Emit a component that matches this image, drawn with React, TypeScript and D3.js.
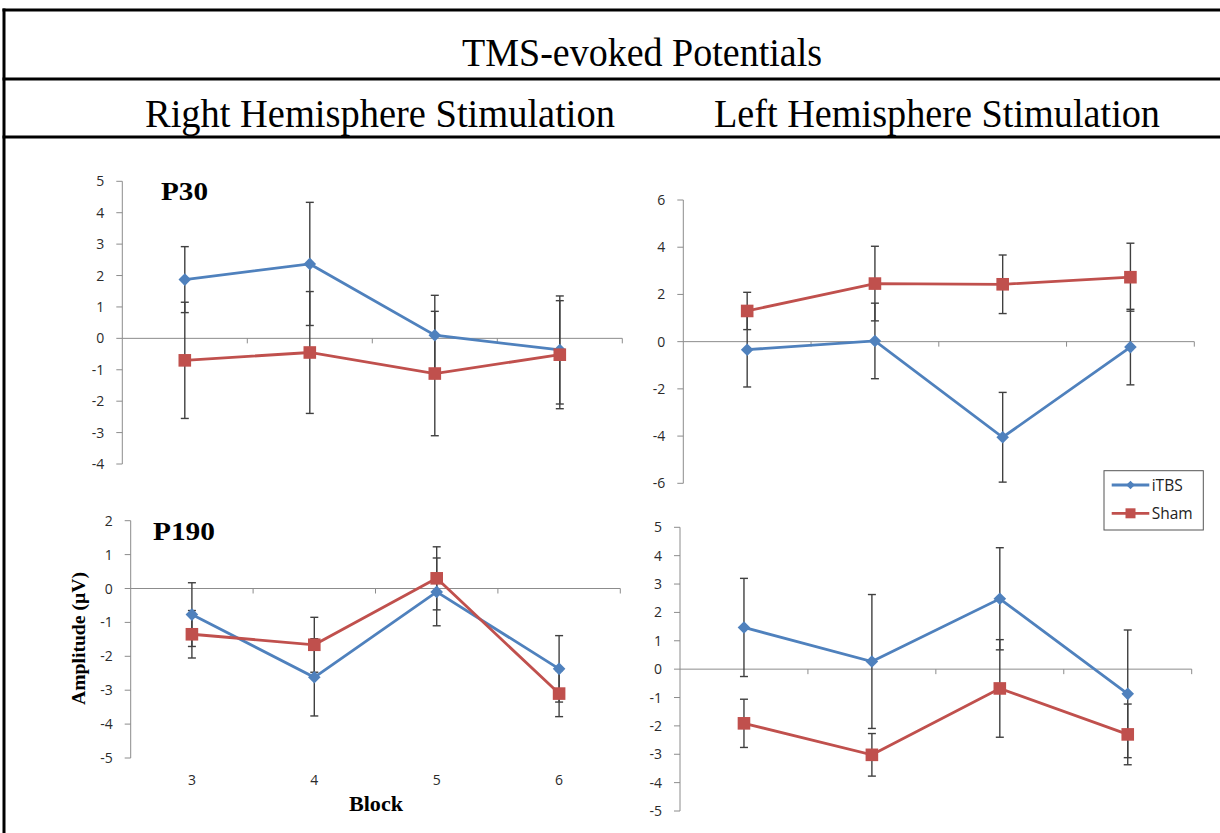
import React from "react";
import * as d3 from "d3";

// ---------- data ----------
const blocks = ["3", "4", "5", "6"];
const seriesNames = ["iTBS", "Sham"];

// P30, Right Hemisphere Stimulation
const rightP30iTBS = [1.87, 2.37, 0.1, -0.37];
const rightP30iTBSErr = [1.05, 1.96, 1.27, 1.72];
const rightP30Sham = [-0.7, -0.45, -1.12, -0.52];
const rightP30ShamErr = [1.85, 1.94, 1.98, 1.72];

// P30, Left Hemisphere Stimulation
const leftP30iTBS = [-0.34, 0.03, -4.05, -0.23];
const leftP30iTBSErr = [1.58, 1.6, 1.9, 1.6];
const leftP30Sham = [1.3, 2.46, 2.43, 2.73];
const leftP30ShamErr = [0.79, 1.58, 1.24, 1.44];

// P190, Right Hemisphere Stimulation
const rightP190iTBS = [-0.77, -2.62, -0.1, -2.37];
const rightP190iTBSErr = [0.94, 1.14, 1.0, 0.98];
const rightP190Sham = [-1.35, -1.66, 0.3, -3.1];
const rightP190ShamErr = [0.7, 0.81, 0.93, 0.68];

// P190, Left Hemisphere Stimulation
const leftP190iTBS = [1.47, 0.27, 2.48, -0.87];
const leftP190iTBSErr = [1.73, 2.36, 1.8, 2.25];
const leftP190Sham = [-1.91, -3.02, -0.68, -2.3];
const leftP190ShamErr = [0.85, 0.75, 1.72, 1.07];

// ---------- layout ----------
const BLUE = "#4F81BD";
const RED = "#C0504D";
const AXIS = "#8c8c8c";
const ERR = "#404040";
const SERIF = "'Liberation Serif', 'Times New Roman', serif";
const SANS = "'Open Sans', 'Liberation Sans', sans-serif";

type Panel = {
  x0: number; x1: number; yTop: number; yBot: number;
  domain: [number, number]; step: number;
  itbs: number[]; itbsErr: number[]; sham: number[]; shamErr: number[];
  showCats: boolean;
};

const panels: Panel[] = [
  { x0: 122.3, x1: 622.3, yTop: 181.3, yBot: 464, domain: [-4, 5], step: 1,
    itbs: rightP30iTBS, itbsErr: rightP30iTBSErr, sham: rightP30Sham, shamErr: rightP30ShamErr, showCats: false },
  { x0: 683.3, x1: 1194.3, yTop: 200, yBot: 483.3, domain: [-6, 6], step: 2,
    itbs: leftP30iTBS, itbsErr: leftP30iTBSErr, sham: leftP30Sham, shamErr: leftP30ShamErr, showCats: false },
  { x0: 130.7, x1: 620.3, yTop: 520.7, yBot: 758, domain: [-5, 2], step: 1,
    itbs: rightP190iTBS, itbsErr: rightP190iTBSErr, sham: rightP190Sham, shamErr: rightP190ShamErr, showCats: true },
  { x0: 680, x1: 1191.7, yTop: 527.3, yBot: 811, domain: [-5, 5], step: 1,
    itbs: leftP190iTBS, itbsErr: leftP190iTBSErr, sham: leftP190Sham, shamErr: leftP190ShamErr, showCats: false },
];

const diamond = (x: number, y: number, r: number) =>
  `M${x},${y - r}L${x + r},${y}L${x},${y + r}L${x - r},${y}Z`;

function ChartPanel({ p }: { p: Panel }) {
  const x = d3.scaleBand<string>().domain(blocks).range([p.x0, p.x1]);
  const y = d3.scaleLinear().domain(p.domain).range([p.yBot, p.yTop]);
  const cx = (b: string) => (x(b) as number) + x.bandwidth() / 2;
  const ticks = d3.range(p.domain[0], p.domain[1] + p.step / 2, p.step);
  const line = d3.line<number>().x((_, i) => cx(blocks[i])).y((v) => y(v));
  const series = [
    { vals: p.itbs, err: p.itbsErr, color: BLUE, shape: "diamond" },
    { vals: p.sham, err: p.shamErr, color: RED, shape: "square" },
  ];
  const boundaries = blocks.map((b) => (x(b) as number) + x.bandwidth());
  return (
    <g>
      <line x1={p.x0} x2={p.x0} y1={y(p.domain[0])} y2={y(p.domain[1])} stroke={AXIS} strokeWidth={1} />
      {ticks.map((t) => (
        <g key={t}>
          <line x1={p.x0 - 6} x2={p.x0} y1={y(t)} y2={y(t)} stroke={AXIS} strokeWidth={1} />
          <text x={p.x0 - 18} y={y(t)} dy="0.36em" textAnchor="end" fontFamily={SANS} fontSize={14} fill="#2b2b2b">
            {String(t)}
          </text>
        </g>
      ))}
      <line x1={p.x0} x2={p.x1} y1={y(0)} y2={y(0)} stroke={AXIS} strokeWidth={1} />
      {boundaries.map((bx, i) => (
        <line key={i} x1={bx} x2={bx} y1={y(0)} y2={y(0) + 5} stroke={AXIS} strokeWidth={1} />
      ))}
      {p.showCats &&
        blocks.map((b) => (
          <text key={b} x={cx(b)} y={785} textAnchor="middle" fontFamily={SANS} fontSize={14} fill="#2b2b2b">
            {b}
          </text>
        ))}
      {series.map((s, si) => (
        <path key={si} d={line(s.vals) as string} fill="none" stroke={s.color} strokeWidth={2.8} />
      ))}
      {series.map((s, si) =>
        s.vals.map((v, i) => {
          const px = cx(blocks[i]);
          const yt = y(v + s.err[i]);
          const yb = y(v - s.err[i]);
          return (
            <g key={`${si}-${i}`} stroke={ERR} strokeWidth={1.4}>
              <line x1={px} x2={px} y1={yt} y2={yb} />
              <line x1={px - 4} x2={px + 4} y1={yt} y2={yt} />
              <line x1={px - 4} x2={px + 4} y1={yb} y2={yb} />
            </g>
          );
        })
      )}
      {series.map((s, si) =>
        s.vals.map((v, i) => {
          const px = cx(blocks[i]);
          const py = y(v);
          return s.shape === "diamond" ? (
            <path key={`${si}-${i}`} d={diamond(px, py, 6.3)} fill={s.color} />
          ) : (
            <rect key={`${si}-${i}`} x={px - 6.3} y={py - 6.3} width={12.6} height={12.6} fill={s.color} />
          );
        })
      )}
    </g>
  );
}

export default function App() {
  return (
    <svg
      width={1220}
      height={833}
      style={{ position: "absolute", left: 0, top: 0, background: "#fff" }}
      xmlns="http://www.w3.org/2000/svg"
    >
      <rect x={0} y={0} width={1220} height={833} fill="#fff" />
      <line x1={2.5} x2={1220} y1={10} y2={10} stroke="#000" strokeWidth={3} />
      <line x1={2.5} x2={1220} y1={79} y2={79} stroke="#000" strokeWidth={3} />
      <line x1={2.5} x2={1220} y1={137} y2={137} stroke="#000" strokeWidth={3} />
      <line x1={4} x2={4} y1={8.5} y2={833} stroke="#000" strokeWidth={3} />

      <text x={642} y={66} textAnchor="middle" fontFamily={SERIF} fontSize={39} textLength={360} lengthAdjust="spacingAndGlyphs">
        TMS-evoked Potentials
      </text>
      <text x={380} y={127} textAnchor="middle" fontFamily={SERIF} fontSize={39} textLength={470} lengthAdjust="spacingAndGlyphs">
        Right Hemisphere Stimulation
      </text>
      <text x={937} y={127} textAnchor="middle" fontFamily={SERIF} fontSize={39} textLength={446} lengthAdjust="spacingAndGlyphs">
        Left Hemisphere Stimulation
      </text>

      {panels.map((p, i) => (
        <ChartPanel key={i} p={p} />
      ))}

      <text x={161} y={200} fontFamily={SERIF} fontWeight="bold" fontSize={26} textLength={47} lengthAdjust="spacingAndGlyphs">
        P30
      </text>
      <text x={153} y={540} fontFamily={SERIF} fontWeight="bold" fontSize={26} textLength={62} lengthAdjust="spacingAndGlyphs">
        P190
      </text>
      <text
        transform="translate(84.5,638.5) rotate(-90)"
        textAnchor="middle"
        fontFamily={SERIF}
        fontWeight="bold"
        fontSize={19.5}
        textLength={133}
        lengthAdjust="spacingAndGlyphs"
      >
        Amplitude (µV)
      </text>
      <text x={376} y={811} textAnchor="middle" fontFamily={SERIF} fontWeight="bold" fontSize={20} textLength={54} lengthAdjust="spacingAndGlyphs">
        Block
      </text>

      <rect x={1104} y={470.7} width={99.3} height={59.3} fill="#fff" stroke="#555" strokeWidth={1} />
      {seriesNames.map((name, i) => {
        const ly = i === 0 ? 485 : 513.3;
        const color = i === 0 ? BLUE : RED;
        return (
          <g key={name}>
            <line x1={1111.7} x2={1149.3} y1={ly} y2={ly} stroke={color} strokeWidth={2.8} />
            {i === 0 ? (
              <path d={diamond(1130.5, ly, 4.3)} fill={color} />
            ) : (
              <rect x={1125.5} y={ly - 5} width={10} height={10} fill={color} />
            )}
            <text x={1151.7} y={ly} dy="0.36em" fontFamily={SANS} fontSize={15.5} fill="#222">
              {name}
            </text>
          </g>
        );
      })}
    </svg>
  );
}
